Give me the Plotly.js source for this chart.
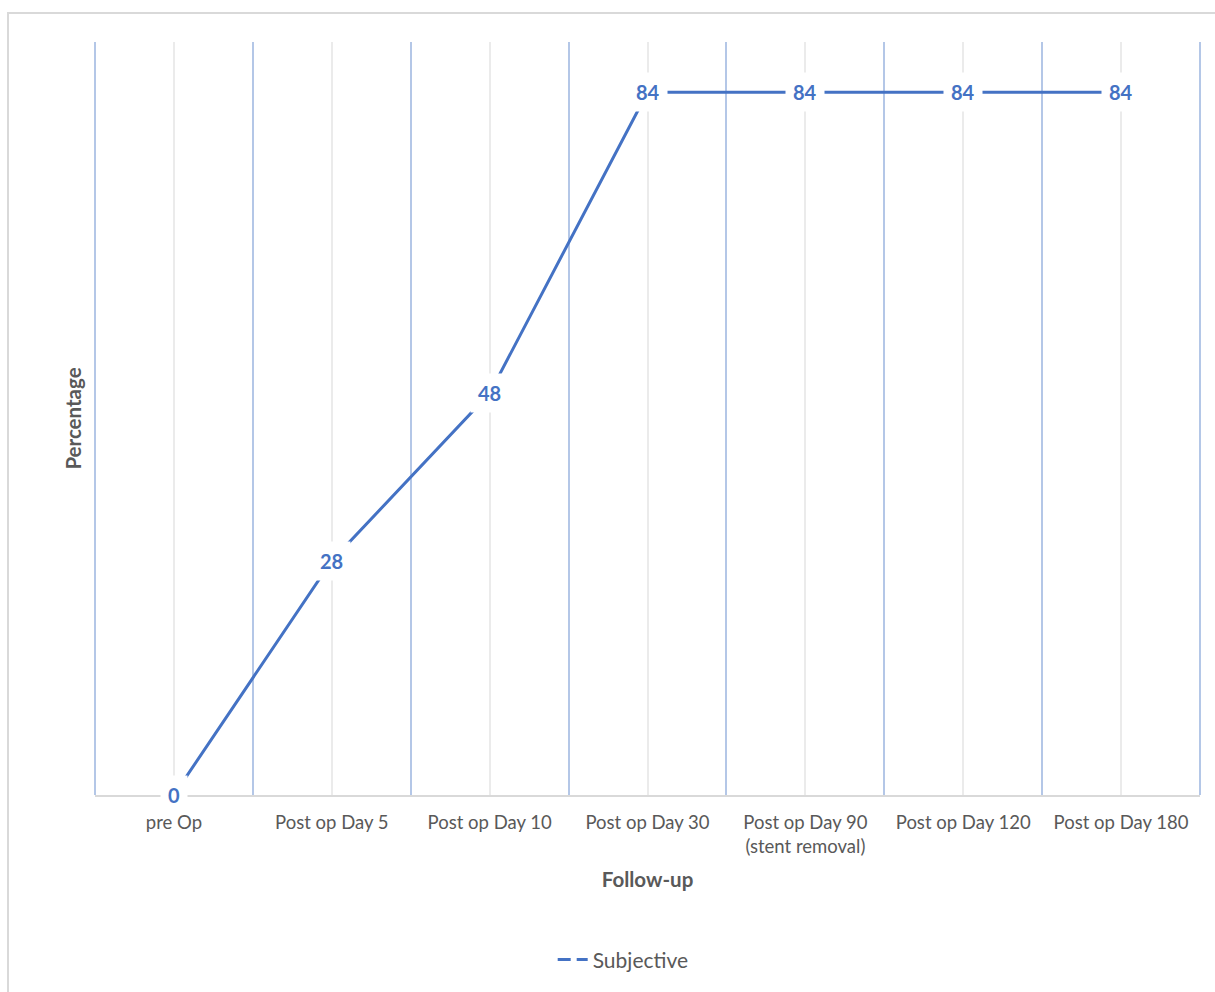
<!DOCTYPE html>
<html>
<head>
<meta charset="utf-8">
<script src="https://cdn.plot.ly/plotly-3.0.1.min.js"></script>
<style>
  html, body { margin: 0; padding: 0; background: #fff; overflow: hidden; }
  #chart { position: absolute; left: 0; top: 0; width: 1215px; height: 992px; }
  #frame { position: absolute; left: 7px; top: 12px; width: 1220px; height: 1000px; border: 2px solid #d9d9d9; pointer-events: none; box-sizing: border-box; }
</style>
</head>
<body>
<div id="chart"></div>
<div id="frame"></div>
<script>
const categories = ["pre Op", "Post op Day 5", "Post op Day 10", "Post op Day 30", "Post op Day 90<br>(stent removal)", "Post op Day 120", "Post op Day 180"];
const subjective = [0, 28, 48, 84, 84, 84, 84];
const seriesName = "Subjective";

const xIdx = categories.map((c, i) => i);
const FONT = "Lato, 'Open Sans', sans-serif";
const BLUE = "#4472c4";
const GRAY = "#595959";
const MAJOR = "#b4c7e7";

const traces = [
  {
    x: xIdx, y: subjective, type: "scatter", mode: "lines",
    line: { color: BLUE, width: 3 }, showlegend: false, hoverinfo: "skip", cliponaxis: false
  },
  {
    x: [null], y: [null], type: "scatter", mode: "lines", name: seriesName,
    line: { color: BLUE, width: 3, dash: "13px,6px" }, showlegend: true
  }
];

const annotations = subjective.map((v, i) => ({
  x: i, y: v, xref: "x", yref: "y", text: "<b>" + v + "</b>", showarrow: false,
  font: { family: FONT, size: 20, color: BLUE }, bgcolor: "#ffffff", borderpad: 7
}));

const layout = {
  width: 1215, height: 992,
  margin: { l: 95, r: 15, t: 42, b: 197 },
  paper_bgcolor: "#ffffff", plot_bgcolor: "#ffffff",
  font: { family: FONT, color: GRAY },
  xaxis: {
    range: [-0.5, 6.5], tickmode: "array", tickvals: xIdx, ticktext: categories,
    showgrid: true, gridcolor: "#ebebeb", gridwidth: 2,
    minor: { tick0: -0.5, dtick: 1, showgrid: true, gridcolor: MAJOR, gridwidth: 2, ticks: "" },
    showline: true, linecolor: "#d9d9d9", linewidth: 2, zeroline: false,
    ticks: "", ticklabelstandoff: 10, tickfont: { family: FONT, size: 18.5, color: GRAY },
    title: { text: "<b>Follow-up</b>", font: { family: FONT, size: 20.5, color: GRAY }, standoff: 16 },
    fixedrange: true
  },
  yaxis: {
    range: [0, 90], showgrid: false, zeroline: false, showticklabels: false, ticks: "", showline: false,
    title: { text: "<b>Percentage</b>", font: { family: FONT, size: 20.5, color: GRAY }, standoff: 6 },
    fixedrange: true
  },
  legend: {
    orientation: "h", x: 0.478, xanchor: "center", y: -0.219, yanchor: "middle",
    font: { family: FONT, size: 21, color: GRAY }
  },
  shapes: [
    { type: "line", xref: "paper", yref: "paper", x0: 0, x1: 0, y0: 0, y1: 1, line: { color: MAJOR, width: 2 }, layer: "below" },
    { type: "line", xref: "paper", yref: "paper", x0: 1, x1: 1, y0: 0, y1: 1, line: { color: MAJOR, width: 2 }, layer: "below" }
  ],
  annotations: annotations,
  showlegend: true
};

Plotly.newPlot("chart", traces, layout, { displayModeBar: false, staticPlot: true });
</script>
</body>
</html>
